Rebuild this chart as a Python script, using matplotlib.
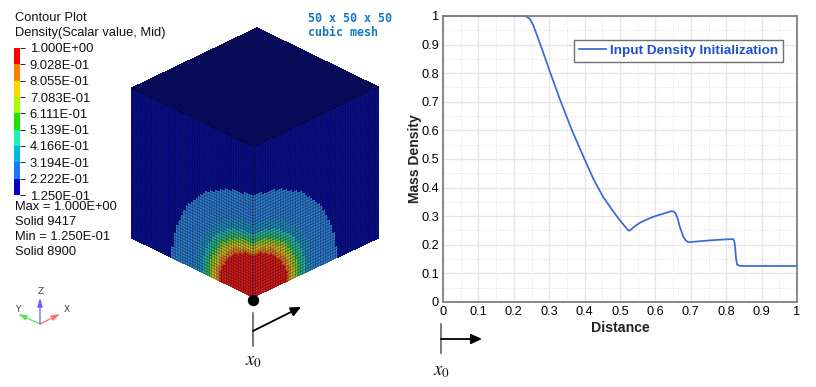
import numpy as np
import matplotlib
matplotlib.use("Agg")
import matplotlib.pyplot as plt
from matplotlib.colors import ListedColormap
from matplotlib.collections import LineCollection

W, H = 816, 387
plt.rcParams['font.family'] = ['Liberation Sans', 'DejaVu Sans']
plt.rcParams['mathtext.fontset'] = 'stix'

# line chart data
distance = [0, .1, .2, .225, .236, .245, .255, .264, .274, .288, .302, .331, .364, .401, .425, .452, .475, .495,
            .512, .524, .528, .54, .556, .575, .594, .62, .646, .652, .658, .664, .669, .679, .686, .693, .72, .76, .8, .82,
            .823, .825, .828, .831, .84, .9, 1]
density = [1, 1, 1, 1, .998, .99, .968, .937, .904, .855, .805, .706, .601, .496, .43, .368, .327, .293,
           .267, .25, .25, .263, .277, .288, .298, .308, .318, .316, .308, .287, .263, .228, .215, .209, .212, .216, .219, .22,
           .212, .193, .15, .13, .126, .126, .126]
x_ticks = [0, .1, .2, .3, .4, .5, .6, .7, .8, .9, 1]
y_ticks = x_ticks
x_tick_labels = ['0', '0.1', '0.2', '0.3', '0.4', '0.5', '0.6', '0.7', '0.8', '0.9', '1']
y_tick_labels = x_tick_labels
series_label = 'Input Density Initialization'

# contour legend
contour_levels = ['1.250E-01', '2.222E-01', '3.194E-01', '4.166E-01', '5.139E-01', '6.111E-01',
                  '7.083E-01', '8.055E-01', '9.028E-01', '1.000E+00']
contour_colors = ['#0000c8', '#1a78ff', '#00bcdc', '#20f0b8', '#20e000', '#a8ff00',
                  '#ffd800', '#ff8000', '#ff0000']
info_top = ['Contour Plot', 'Density(Scalar value, Mid)']
info_bottom = ['Max = 1.000E+00', 'Solid 9417', 'Min = 1.250E-01', 'Solid 8900']

# mesh: outer radius of each colour band from the bottom corner, and its colour
n_cells = 50
band_radii = [.28, .31, .34, .37, .40, .43, .49, .675, 10]
band_colors = ['#e01c10', '#e88018', '#d4bc20', '#88c824', '#34b868', '#2cb8a8', '#2490b8', '#3080cc', '#0a1090']
top_color = '#0c0e70'
edge_color = '#03052a'

fig = plt.figure(figsize=(W / 100, H / 100), dpi=100)
fig.patch.set_facecolor('white')


def px_axes(x0, y0, x1, y1, **kw):
    return fig.add_axes([x0 / W, 1 - y1 / H, (x1 - x0) / W, (y1 - y0) / H], **kw)


def mesh_lines(axis, X, Y, alpha_u, alpha_v):
    """Thin mesh lines over a face, without pixel snapping."""
    for arrX, arrY, alpha in [(X, Y, alpha_u), (X.T, Y.T, alpha_v)]:
        segs = [np.column_stack([arrX[i], arrY[i]]) for i in range(arrX.shape[0])]
        lc = LineCollection(segs, colors=edge_color, linewidths=0.5, alpha=alpha, antialiased=True)
        lc.set_snap(False)
        axis.add_collection(lc)


# overlay in pixel coordinates
ov = px_axes(0, 0, W, H)
ov.set_xlim(0, W)
ov.set_ylim(H, 0)
ov.axis('off')

cmap = ListedColormap(band_colors)
s = np.linspace(0, 1, n_cells + 1)
U, V = np.meshgrid(s, s)
uc = (U[:-1, :-1] + U[1:, 1:]) / 2
vc = (V[:-1, :-1] + V[1:, 1:]) / 2
band = np.digitize(np.hypot(uc, vc), band_radii)
bottom = np.array([253, 297.0])
face_vectors = [(np.array([-121, -59.0]), np.array([0, -150.0])),
                (np.array([125, -59.0]), np.array([0, -150.0]))]
for a, b in face_vectors:
    X = bottom[0] + U * a[0] + V * b[0]
    Y = bottom[1] + U * a[1] + V * b[1]
    qm = ov.pcolormesh(X, Y, band, cmap=cmap, vmin=-.5, vmax=len(band_colors) - .5,
                       edgecolors='face', linewidth=0.2, shading='flat')
    qm.set_snap(False)
    mesh_lines(ov, X, Y, 0.45, 0.5)
# top face
O = np.array([253, 147.0])
a, b = np.array([-121, -59.0]), np.array([125, -60.0])
X = O[0] + U * a[0] + V * b[0]
Y = O[1] + U * a[1] + V * b[1]
qm = ov.pcolormesh(X, Y, np.zeros_like(uc), cmap=ListedColormap([top_color]),
                   edgecolors='face', linewidth=0.2, shading='flat')
qm.set_snap(False)
mesh_lines(ov, X, Y, 0.6, 0.6)

# corner dot and arrows
ov.plot([253], [300], 'o', color='black', ms=7.2)
ov.plot([253, 253], [313, 346], color='#555555', lw=1.1)
ov.annotate('', xy=(301, 307), xytext=(253, 331),
            arrowprops=dict(arrowstyle='-|>,head_width=0.28,head_length=0.6', color='black', lw=1.3, shrinkA=0, shrinkB=0))
ov.text(245, 362, r'$x_0$', fontsize=13.5, va='center', ha='left', color='#111111')
ov.plot([441, 441], [324, 353], color='#555555', lw=1.1)
ov.annotate('', xy=(482, 339), xytext=(441, 339),
            arrowprops=dict(arrowstyle='-|>,head_width=0.3,head_length=0.65', color='black', lw=1.3, shrinkA=0, shrinkB=0))
ov.text(433, 372, r'$x_0$', fontsize=13.5, va='center', ha='left', color='#111111')

# triad
for (tx, ty, col) in [(60, 314, '#ff7070'), (18, 314, '#60e060'), (40, 298, '#6060ff')]:
    ov.annotate('', xy=(tx, ty), xytext=(40, 324),
                arrowprops=dict(arrowstyle='-|>,head_width=0.15,head_length=0.5', color=col, lw=0.9, shrinkA=0, shrinkB=0))
for lab, tx, ty in [('Z', 41, 291), ('X', 67, 309), ('Y', 18, 309)]:
    ov.text(tx, ty, lab, fontsize=6.5, ha='center', va='center', color='#444444', family='DejaVu Sans')

# annotations
for i, t in enumerate(info_top):
    ov.text(15, 18 + 15 * i, t, fontsize=9.3, va='center', color='#111111')
for i, t in enumerate(info_bottom):
    ov.text(15, 207 + 15 * i, t, fontsize=9.3, va='center', color='#111111')
ov.text(308, 18, '50 x 50 x 50', fontsize=8.4, family='DejaVu Sans Mono', weight='bold', va='center', color='#1478c8')
ov.text(308, 33, 'cubic mesh', fontsize=8.4, family='DejaVu Sans Mono', weight='bold', va='center', color='#1478c8')

# contour legend
cb = px_axes(14, 48, 20, 195)
cb.set_xlim(0, 1)
cb.set_ylim(0, len(contour_colors))
cb.bar(np.full(len(contour_colors), .5), np.ones(len(contour_colors)), width=1,
       bottom=np.arange(len(contour_colors)), color=contour_colors)
cb.set_xticks([])
cb.yaxis.tick_right()
cb.set_yticks(np.arange(len(contour_levels)))
cb.set_yticklabels(contour_levels, fontsize=9.4, color='#111111')
cb.tick_params(axis='y', length=3.6, width=0.7, pad=3.5, color='#222222')
for sp in cb.spines.values():
    sp.set_visible(False)

# line chart
ax = px_axes(443, 16, 797, 302)
ax.set_xlim(0, 1)
ax.set_ylim(0, 1)
ax.set_xticks(x_ticks)
ax.set_xticklabels(x_tick_labels, fontsize=9.2)
ax.set_yticks(y_ticks)
ax.set_yticklabels(y_tick_labels, fontsize=9.2)
ax.set_xticks(np.arange(.05, 1, .1), minor=True)
ax.set_yticks(np.arange(.05, 1, .1), minor=True)
ax.grid(True, which='major', color='#e6e6e6', lw=1.0)
ax.grid(True, which='minor', color='#e2e2e2', lw=0.7, ls=':')
ax.tick_params(which='both', length=0, pad=3)
for sp in ax.spines.values():
    sp.set_color('#808080')
    sp.set_linewidth(1.3)
ax.plot(distance, density, color='#3a69d2', lw=1.25, label=series_label, clip_on=False)
ax.set_xlabel('Distance', fontsize=10.2, weight='bold', color='#222222', labelpad=2)
ax.set_ylabel('Mass Density', fontsize=10, weight='bold', color='#222222', labelpad=-1)
leg = ax.legend(loc='upper left', bbox_to_anchor=((574 - 443) / 354, (302 - 40) / 286), fontsize=10,
                fancybox=False, framealpha=1, edgecolor='#707070', borderaxespad=0, handlelength=2.0,
                borderpad=0.35, handletextpad=0.35, labelcolor='#1a50d0', prop={'weight': 'bold', 'size': 9.7})
leg.get_frame().set_linewidth(1.0)

fig.savefig('out.png', dpi=100)
